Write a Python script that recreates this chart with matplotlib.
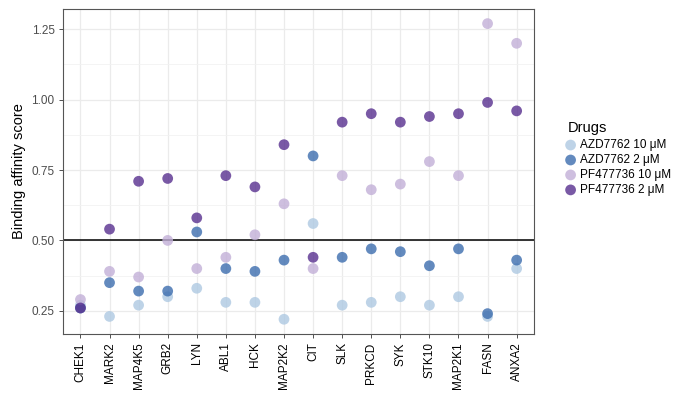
import numpy as np
import matplotlib
matplotlib.use("Agg")
import matplotlib.pyplot as plt
from matplotlib.ticker import MultipleLocator

# kinases along the x axis
genes = ["CHEK1", "MARK2", "MAP4K5", "GRB2", "LYN", "ABL1", "HCK", "MAP2K2",
         "CIT", "SLK", "PRKCD", "SYK", "STK10", "MAP2K1", "FASN", "ANXA2"]

# binding affinity score per drug / dose
azd_10 = [0.27, 0.23, 0.27, 0.30, 0.33, 0.28, 0.28, 0.22,
          0.56, 0.27, 0.28, 0.30, 0.27, 0.30, 0.23, 0.40]
azd_2 = [0.26, 0.35, 0.32, 0.32, 0.53, 0.40, 0.39, 0.43,
         0.80, 0.44, 0.47, 0.46, 0.41, 0.47, 0.24, 0.43]
pf_10 = [0.29, 0.39, 0.37, 0.50, 0.40, 0.44, 0.52, 0.63,
         0.40, 0.73, 0.68, 0.70, 0.78, 0.73, 1.27, 1.20]
pf_2 = [0.26, 0.54, 0.71, 0.72, 0.58, 0.73, 0.69, 0.84,
        0.44, 0.92, 0.95, 0.92, 0.94, 0.95, 0.99, 0.96]

series = [("AZD7762 10 \u03bcM", azd_10, "#aec9e2"),
          ("AZD7762 2 \u03bcM", azd_2, "#3c6dae"),
          ("PF477736 10 \u03bcM", pf_10, "#c2afd7"),
          ("PF477736 2 \u03bcM", pf_2, "#58308f")]

plt.rcParams["font.family"] = ["Liberation Sans", "DejaVu Sans"]

fig = plt.figure(figsize=(7.0, 4.01), dpi=100)
ax = fig.add_axes([0.09, 0.167, 0.673, 0.811])

x = np.arange(len(genes))
for label, vals, col in series:
    ax.scatter(x, vals, s=60, color=col, alpha=0.8, edgecolors="none",
               label=label, zorder=3)

# threshold
ax.axhline(0.5, color="black", lw=1.1, zorder=2)

ax.set_xlim(-0.6, len(genes) - 0.4)
ax.set_ylim(0.1675, 1.3225)
ax.set_xticks(x)
ax.set_xticklabels(genes, rotation=90, fontsize=8.5, color="black")
ax.yaxis.set_major_locator(MultipleLocator(0.25))
ax.yaxis.set_minor_locator(MultipleLocator(0.125))
ax.set_yticks([0.25, 0.5, 0.75, 1.0, 1.25])
ax.set_yticklabels(["0.25", "0.50", "0.75", "1.00", "1.25"], fontsize=8.5, color="#4d4d4d")
ax.set_ylabel("Binding affinity score", fontsize=10.5, labelpad=4)

ax.grid(which="major", color="#ebebeb", lw=0.9, zorder=0)
ax.grid(which="minor", axis="y", color="#f2f2f2", lw=0.6, zorder=0)
ax.set_axisbelow(True)
ax.tick_params(which="major", length=3, width=0.6, color="#333333", pad=3)
ax.tick_params(which="minor", length=0)
for sp in ax.spines.values():
    sp.set_color("#555555")
    sp.set_linewidth(0.8)

# legend, title placed separately so it lines up like the reference
fig.text(0.811, 0.663, "Drugs", fontsize=10.5, ha="left", va="bottom")
fig.legend(loc="upper left", bbox_to_anchor=(0.805, 0.653), frameon=False,
           fontsize=8.5, handletextpad=0.2, labelspacing=0.25,
           borderaxespad=0, borderpad=0, handlelength=1.2)

fig.savefig("out.png", dpi=100)
